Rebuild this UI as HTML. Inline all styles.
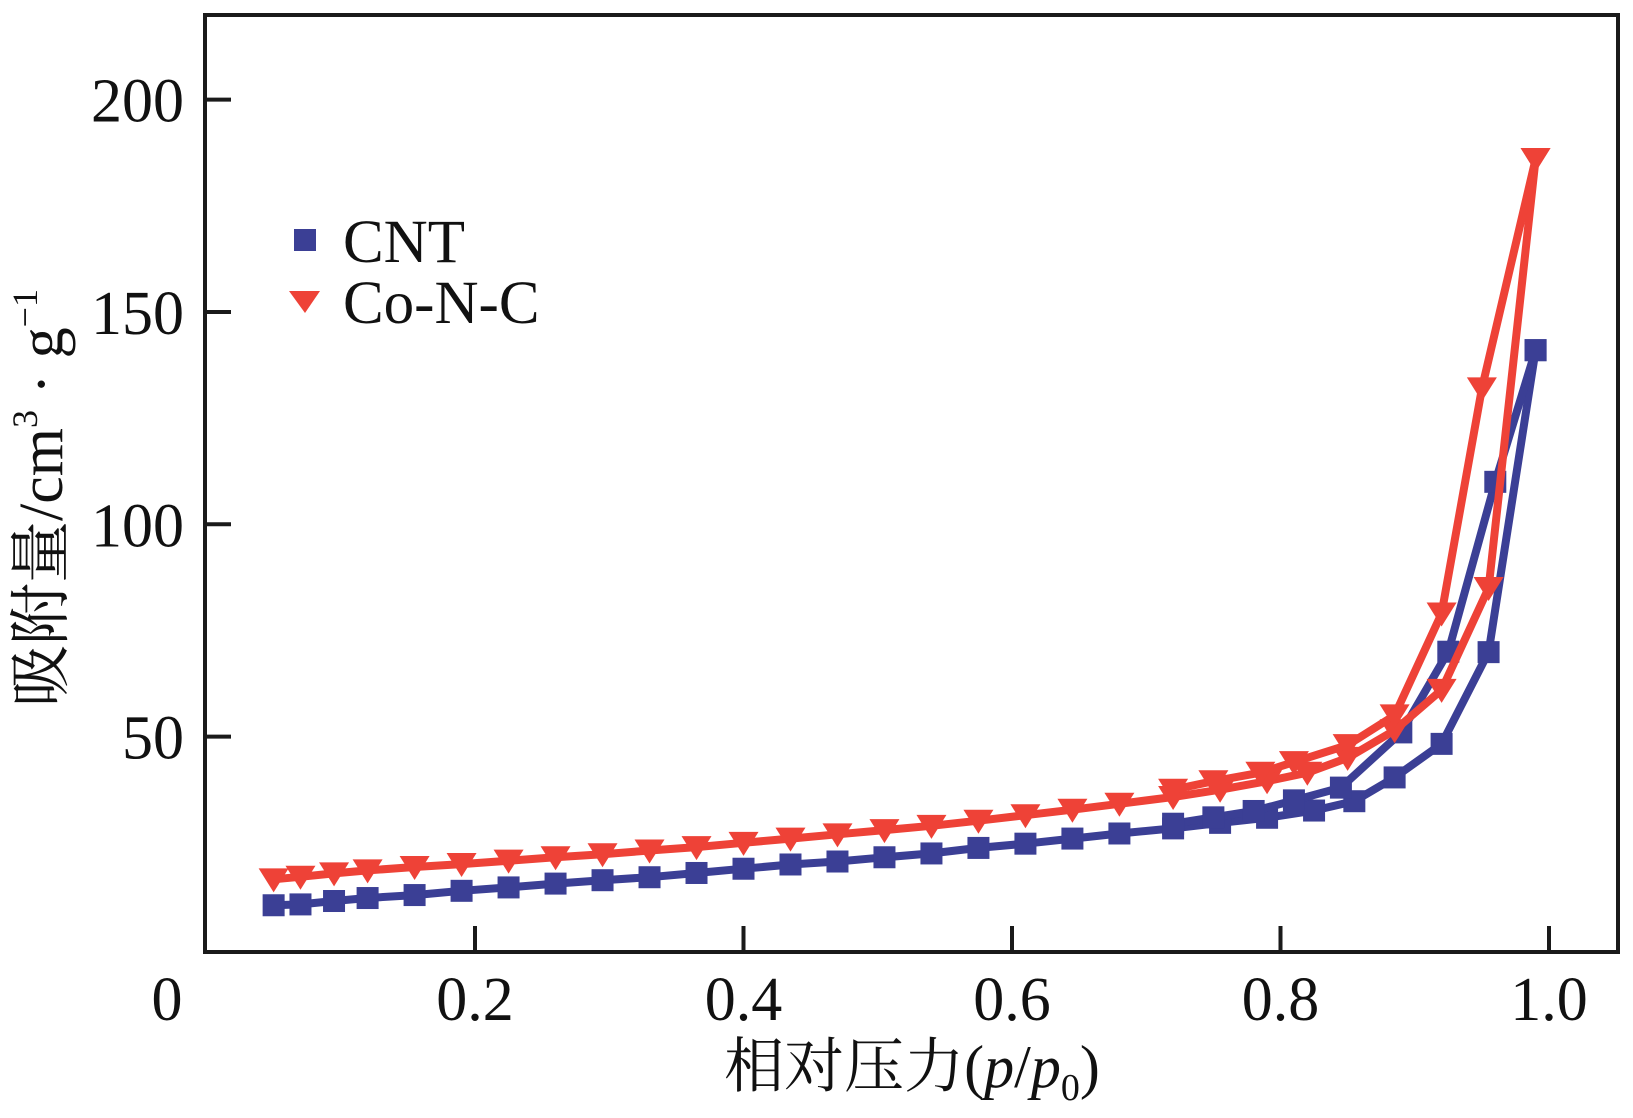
<!DOCTYPE html>
<html><head><meta charset="utf-8"><style>
body{margin:0;background:#fff}
svg{display:block}
text{font-family:"Liberation Serif","Noto Serif CJK SC",serif;fill:#111}
</style></head><body>
<svg id="chart" width="1633" height="1118" viewBox="0 0 1633 1118" xmlns="http://www.w3.org/2000/svg">
<g id="plot"></g>
<g id="axes"></g>
</svg>
<script>
const xTicks=[0.2,0.4,0.6,0.8,1.0];
const xTickLabels=["0.2","0.4","0.6","0.8","1.0"];
const yTicks=[50,100,150,200];
const yTickLabels=["50","100","150","200"];
const cntAdsX=[0.05,0.07,0.095,0.12,0.155,0.19,0.225,0.26,0.295,0.33,0.365,0.4,0.435,0.47,0.505,0.54,0.575,0.61,0.645,0.68,0.72,0.755,0.79,0.825,0.855,0.885,0.92,0.955,0.99];
const cntAdsY=[10.3,10.5,11.3,12,12.7,13.7,14.5,15.4,16.2,16.9,17.9,18.9,19.9,20.6,21.6,22.5,23.8,24.8,26,27.2,28.4,29.7,30.9,32.6,34.8,40.4,48.3,69.9,141];
const cntDesX=[0.99,0.96,0.925,0.89,0.845,0.81,0.78,0.75,0.72];
const cntDesY=[141,110,70,51,38,35,32.5,31,29.5];
const cncAdsX=[0.05,0.07,0.095,0.12,0.155,0.19,0.225,0.26,0.295,0.33,0.365,0.4,0.435,0.47,0.505,0.54,0.575,0.61,0.645,0.68,0.72,0.755,0.79,0.82,0.85,0.885,0.92,0.955,0.99];
const cncAdsY=[16.4,17,17.8,18.5,19.3,20,20.8,21.6,22.3,23.2,24,25,26,27,28,29,30.2,31.5,32.8,34.2,35.8,37.5,39.5,41.5,45,51.5,61,85,186];
const cncDesX=[0.99,0.95,0.92,0.885,0.85,0.81,0.785,0.75,0.72];
const cncDesY=[186,132,79,55,48,44,41.5,39.5,37.5];

const NS="http://www.w3.org/2000/svg";
const sx=v=>206.5+v*1342.5;
const sy=v=>949-v*4.247;
const plot=document.getElementById('plot'),axes=document.getElementById('axes');
function mk(tag,attrs,parent){const e=document.createElementNS(NS,tag);for(const k in attrs)e.setAttribute(k,attrs[k]);parent.appendChild(e);return e;}

function series(xs,ys,color,marker,name){
  const g=mk('g',{},plot);
  
  
  const pts=xs.map((x,i)=>sx(x).toFixed(1)+','+sy(ys[i]).toFixed(1)).join(' ');
  const pl=mk('polyline',{points:pts,fill:'none',stroke:color,'stroke-width':8,'stroke-linejoin':'round'},g);
  
  
  xs.forEach((x,i)=>{
    const cx=sx(x),cy=sy(ys[i]);let m;
    if(marker==='sq'){m=mk('rect',{x:cx-11,y:cy-11,width:22,height:22,fill:color},g);}
    else{m=mk('polygon',{points:`${cx-15},${cy-11} ${cx+15},${cy-11} ${cx},${cy+13}`,fill:color},g);}
    
    
  });
}
series(cntAdsX,cntAdsY,'#3b3f95','sq','cnt-adsorption');
series(cntDesX,cntDesY,'#3b3f95','sq','cnt-desorption');
series(cncAdsX,cncAdsY,'#ee4237','tri','conc-adsorption');
series(cncDesX,cncDesY,'#ee4237','tri','conc-desorption');

const fr=mk('rect',{x:205,y:15,width:1413,height:937,fill:'none',stroke:'#1a1a1a','stroke-width':4},axes);


xTicks.forEach((t,i)=>{
  const x=sx(t);
  const l=mk('line',{x1:x,y1:952,x2:x,y2:926,stroke:'#1a1a1a','stroke-width':4},axes);
  
  
  const tx=mk('text',{x:x,y:1020,'text-anchor':'middle','font-size':62},axes);
  tx.textContent=xTickLabels[i];
  
  
});
yTicks.forEach((t,i)=>{
  const y=sy(t);
  const l=mk('line',{x1:205,y1:y,x2:231,y2:y,stroke:'#1a1a1a','stroke-width':4},axes);
  
  
  const tx=mk('text',{x:184,y:y+22,'text-anchor':'end','font-size':62},axes);
  tx.textContent=yTickLabels[i];
  
  
});
</script>
<svg style="position:absolute;left:0;top:0" width="1633" height="1118" xmlns="http://www.w3.org/2000/svg">
<text x="167" y="1020" text-anchor="middle" font-size="62">0</text>
<text x="912" y="1087" text-anchor="middle" font-size="60">相对压力(<tspan font-style="italic">p</tspan>/<tspan font-style="italic">p</tspan><tspan font-size="38" dy="13">0</tspan><tspan dy="-13">)</tspan></text>
<text transform="translate(62,498) rotate(-90)" text-anchor="middle" font-size="62">吸附量/cm<tspan font-size="36" dy="-25">3</tspan><tspan dy="25"> · g</tspan><tspan font-size="36" dy="-25">−1</tspan></text>
<g>
<rect x="294" y="229" width="22" height="22" fill="#3b3f95"/>
<text x="343" y="262" font-size="61">CNT</text>
<polygon points="289,291 320,291 305,313" fill="#ee4237"/>
<text x="343" y="323" font-size="61">Co-N-C</text>
</g>
</svg>
</body></html>
